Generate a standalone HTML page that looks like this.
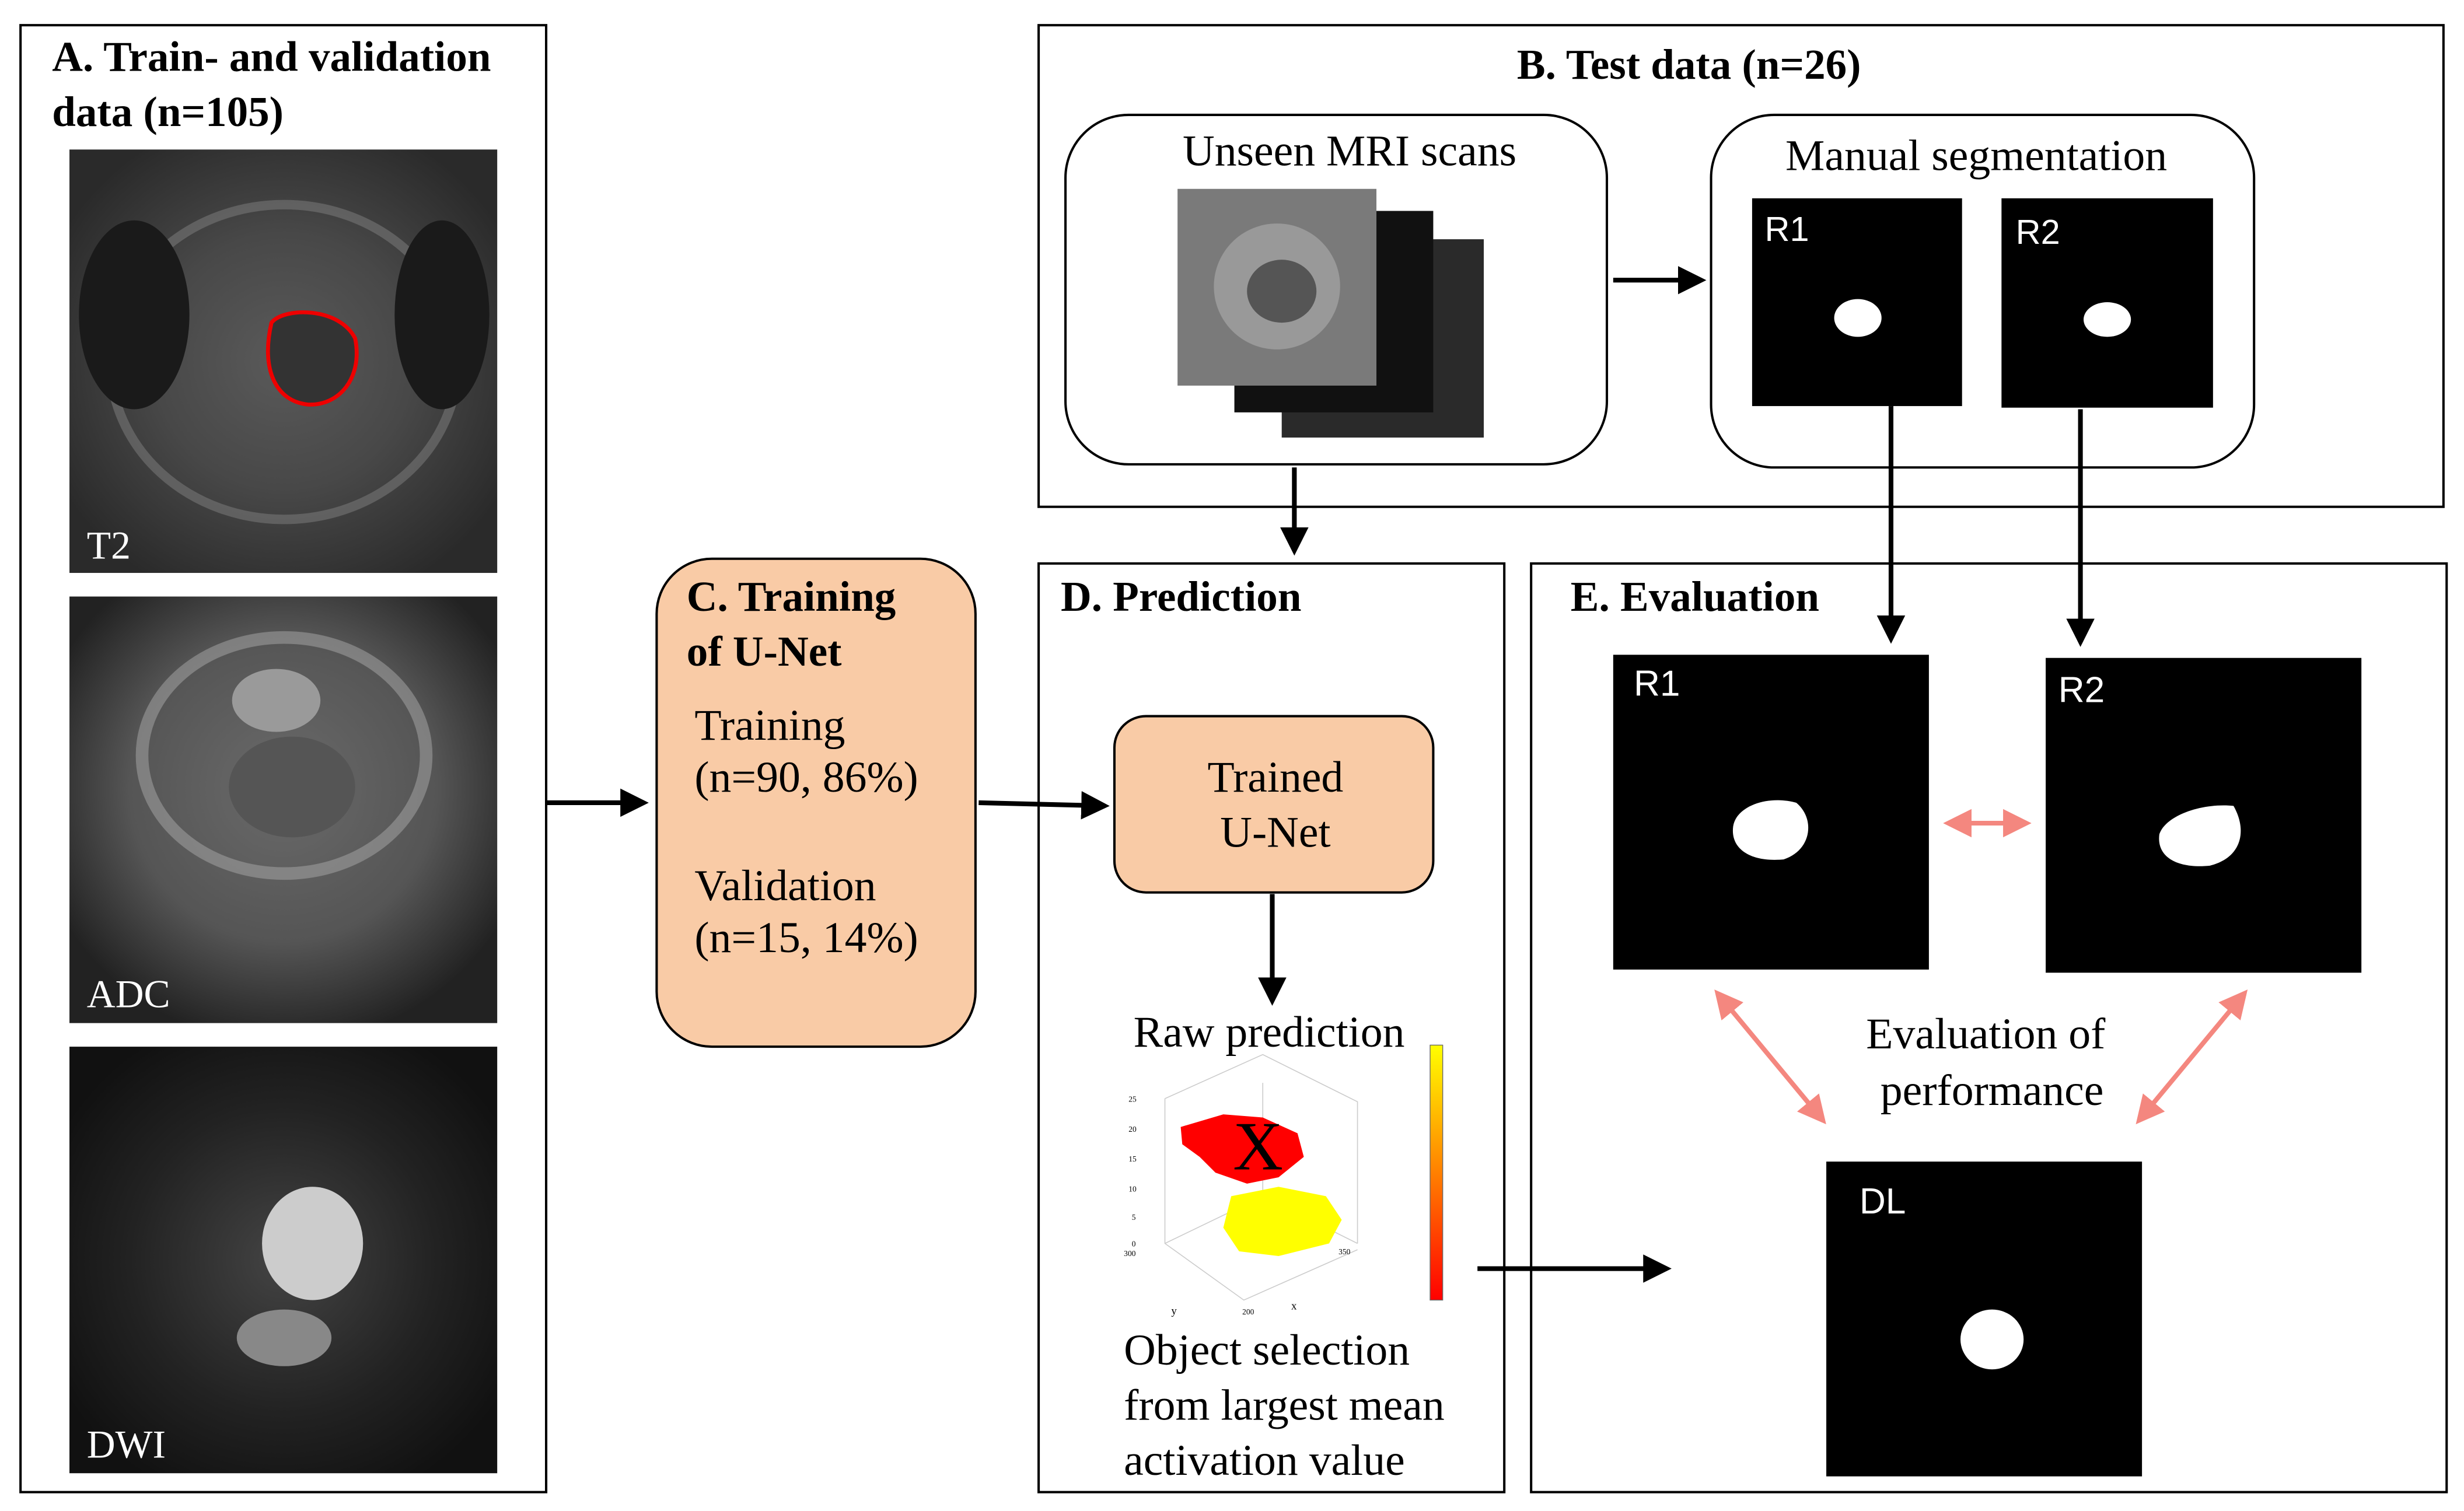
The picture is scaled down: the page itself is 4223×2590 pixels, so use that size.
<!DOCTYPE html>
<html><head><meta charset="utf-8"><style>
html,body{margin:0;padding:0;background:#fff}
svg{display:block}
text{font-family:"Liberation Serif",serif;fill:#000}
.s{font-family:"Liberation Sans",sans-serif}
</style></head><body>
<svg width="4223" height="2590" viewBox="0 0 1561 960" preserveAspectRatio="none" xmlns="http://www.w3.org/2000/svg">
<defs>
<marker id="ah" markerWidth="6" markerHeight="6" refX="5" refY="3" orient="auto" markerUnits="strokeWidth"><path d="M0,0 L6,3 L0,6 z" fill="#000"/></marker>
<marker id="ph" markerWidth="6" markerHeight="6" refX="5" refY="3" orient="auto-start-reverse" markerUnits="strokeWidth"><path d="M0,0 L6,3 L0,6 z" fill="#f4877f"/></marker>
<radialGradient id="t2" cx="50%" cy="50%" r="60%"><stop offset="0" stop-color="#5a5a5a"/><stop offset="0.5" stop-color="#484848"/><stop offset="1" stop-color="#2a2a2a"/></radialGradient>
<radialGradient id="adc" cx="50%" cy="45%" r="60%"><stop offset="0" stop-color="#6a6a6a"/><stop offset="0.6" stop-color="#555"/><stop offset="1" stop-color="#222"/></radialGradient>
<radialGradient id="dwi" cx="50%" cy="50%" r="60%"><stop offset="0" stop-color="#444"/><stop offset="0.6" stop-color="#222"/><stop offset="1" stop-color="#111"/></radialGradient>
<linearGradient id="cb" x1="0" y1="1" x2="0" y2="0"><stop offset="0" stop-color="#ff0000"/><stop offset="0.5" stop-color="#ff8000"/><stop offset="1" stop-color="#ffff00"/></linearGradient>
</defs>

<!-- A -->
<rect x="13" y="16" width="333" height="932" fill="none" stroke="#000" stroke-width="1.5"/>
<text x="33" y="45" font-size="27" font-weight="bold">A.   Train- and validation</text>
<text x="33" y="80" font-size="27" font-weight="bold">data (n=105)</text>
<rect x="44" y="95" width="271" height="269" fill="url(#t2)"/>
<ellipse cx="180" cy="230" rx="110" ry="100" fill="none" stroke="#777" stroke-width="6" opacity="0.6"/>
<ellipse cx="85" cy="200" rx="35" ry="60" fill="#1a1a1a"/><ellipse cx="280" cy="200" rx="30" ry="60" fill="#1a1a1a"/>
<path d="M172,205 C180,195 215,195 225,215 C230,240 215,258 195,257 C175,255 165,235 172,205 z" fill="#333" stroke="#e00" stroke-width="2.5"/>
<text x="55" y="355" font-size="25" style="fill:#fff">T2</text>
<rect x="44" y="379" width="271" height="271" fill="url(#adc)"/>
<ellipse cx="180" cy="480" rx="90" ry="75" fill="none" stroke="#aaa" stroke-width="8" opacity="0.5"/>
<ellipse cx="185" cy="500" rx="40" ry="32" fill="#555"/>
<ellipse cx="175" cy="445" rx="28" ry="20" fill="#9a9a9a"/>
<text x="55" y="640" font-size="25" style="fill:#fff">ADC</text>
<rect x="44" y="665" width="271" height="271" fill="url(#dwi)"/>
<ellipse cx="198" cy="790" rx="32" ry="36" fill="#ccc"/>
<ellipse cx="180" cy="850" rx="30" ry="18" fill="#888"/>
<text x="55" y="926" font-size="25" style="fill:#fff">DWI</text>

<line x1="346" y1="510" x2="408" y2="510" stroke="#000" stroke-width="3" marker-end="url(#ah)"/>

<!-- C -->
<rect x="416" y="355" width="202" height="310" rx="35" fill="#f9cba6" stroke="#000" stroke-width="1.5"/>
<text x="435" y="388" font-size="27" font-weight="bold">C. Training</text>
<text x="435" y="423" font-size="27" font-weight="bold">of U-Net</text>
<text x="440" y="470" font-size="28">Training</text>
<text x="440" y="503" font-size="28">(n=90, 86%)</text>
<text x="440" y="572" font-size="28">Validation</text>
<text x="440" y="605" font-size="28">(n=15, 14%)</text>
<line x1="620" y1="510" x2="700" y2="512" stroke="#000" stroke-width="3" marker-end="url(#ah)"/>

<!-- B -->
<rect x="658" y="16" width="890" height="306" fill="none" stroke="#000" stroke-width="1.5"/>
<text x="1070" y="50" font-size="27" font-weight="bold" text-anchor="middle">B. Test data (n=26)</text>
<rect x="675" y="73" width="343" height="222" rx="40" fill="none" stroke="#000" stroke-width="1.5"/>
<text x="855" y="105" font-size="28" text-anchor="middle">Unseen MRI scans</text>
<rect x="812" y="152" width="128" height="126" fill="#2a2a2a"/>
<rect x="782" y="134" width="126" height="128" fill="#111"/>
<rect x="746" y="120" width="126" height="125" fill="#7a7a7a"/>
<ellipse cx="809" cy="182" rx="40" ry="40" fill="#999"/>
<ellipse cx="812" cy="185" rx="22" ry="20" fill="#555"/>
<text x="1252" y="108" font-size="28" text-anchor="middle">Manual segmentation</text>
<rect x="1084" y="73" width="344" height="224" rx="40" fill="none" stroke="#000" stroke-width="1.5"/>
<line x1="1022" y1="178" x2="1078" y2="178" stroke="#000" stroke-width="3" marker-end="url(#ah)"/>
<rect x="1110" y="126" width="133" height="132" fill="#000"/>
<rect x="1268" y="126" width="134" height="133" fill="#000"/>
<text class="s" x="1118" y="153" font-size="22" style="fill:#fff">R1</text>
<text class="s" x="1277" y="155" font-size="22" style="fill:#fff">R2</text>
<ellipse cx="1177" cy="202" rx="15" ry="12" fill="#fff"/>
<ellipse cx="1335" cy="203" rx="15" ry="11" fill="#fff"/>

<!-- D -->
<rect x="658" y="358" width="295" height="590" fill="none" stroke="#000" stroke-width="1.5"/>
<text x="672" y="388" font-size="27" font-weight="bold">D. Prediction</text>
<line x1="820" y1="297" x2="820" y2="350" stroke="#000" stroke-width="3" marker-end="url(#ah)"/>
<rect x="706" y="455" width="202" height="112" rx="20" fill="#f9cba6" stroke="#000" stroke-width="1.5"/>
<text x="808" y="503" font-size="28" text-anchor="middle">Trained</text>
<text x="808" y="538" font-size="28" text-anchor="middle">U-Net</text>
<line x1="806" y1="568" x2="806" y2="636" stroke="#000" stroke-width="3" marker-end="url(#ah)"/>
<text x="804" y="665" font-size="28" text-anchor="middle">Raw prediction</text>
<g stroke="#ccc" stroke-width="0.6" fill="none">
<path d="M738,698 L738,790 L788,826 L860,794 M738,790 L800,760 L860,790 M800,760 L800,688 M738,698 L800,670 L860,700 L860,790"/>
</g>
<g font-family="Liberation Sans" font-size="5" fill="#333"><text x="715" y="700">25</text><text x="715" y="719">20</text><text x="715" y="738">15</text><text x="715" y="757">10</text><text x="717" y="775">5</text><text x="717" y="792">0</text><text x="712" y="798">300</text><text x="787" y="835">200</text><text x="848" y="797">350</text><text x="818" y="832" font-size="7">x</text><text x="742" y="835" font-size="7">y</text></g>
<path d="M748,716 L775,708 L800,710 L822,720 L826,735 L810,748 L790,752 L770,745 L760,735 L749,727 z" fill="#f00"/>
<path d="M780,760 L810,754 L840,760 L850,775 L842,790 L810,798 L785,795 L775,780 z" fill="#ff0"/>
<text x="797" y="743" font-family="Liberation Sans" font-size="44" text-anchor="middle">X</text>
<rect x="906" y="664" width="8" height="162" fill="url(#cb)" stroke="#666" stroke-width="0.5"/>
<text x="712" y="867" font-size="28">Object selection</text>
<text x="712" y="902" font-size="28">from largest mean</text>
<text x="712" y="937" font-size="28">activation value</text>
<line x1="936" y1="806" x2="1056" y2="806" stroke="#000" stroke-width="3" marker-end="url(#ah)"/>

<!-- E -->
<rect x="970" y="358" width="580" height="590" fill="none" stroke="#000" stroke-width="1.5"/>
<text x="995" y="388" font-size="27" font-weight="bold">E. Evaluation</text>
<line x1="1198" y1="258" x2="1198" y2="406" stroke="#000" stroke-width="3" marker-end="url(#ah)"/>
<line x1="1318" y1="260" x2="1318" y2="408" stroke="#000" stroke-width="3" marker-end="url(#ah)"/>
<rect x="1022" y="416" width="200" height="200" fill="#000"/>
<rect x="1296" y="418" width="200" height="200" fill="#000"/>
<rect x="1157" y="738" width="200" height="200" fill="#000"/>
<text class="s" x="1035" y="442" font-size="23" style="fill:#fff">R1</text>
<text class="s" x="1304" y="446" font-size="23" style="fill:#fff">R2</text>
<text class="s" x="1178" y="771" font-size="23" style="fill:#fff">DL</text>
<path d="M1098,525 C1100,512 1120,505 1138,510 C1150,520 1148,540 1130,546 C1110,548 1096,540 1098,525 z" fill="#fff"/>
<path d="M1368,530 C1372,518 1395,510 1415,512 C1424,528 1420,545 1400,550 C1380,552 1366,545 1368,530 z" fill="#fff"/>
<ellipse cx="1262" cy="851" rx="20" ry="19" fill="#fff"/>
<g stroke="#f4877f" stroke-width="3" fill="none">
<line x1="1234" y1="523" x2="1284" y2="523" marker-start="url(#ph)" marker-end="url(#ph)"/>
<line x1="1088" y1="631" x2="1155" y2="712" marker-start="url(#ph)" marker-end="url(#ph)"/>
<line x1="1422" y1="631" x2="1355" y2="712" marker-start="url(#ph)" marker-end="url(#ph)"/>
</g>
<text x="1258" y="666" font-size="28" text-anchor="middle">Evaluation of</text>
<text x="1262" y="702" font-size="28" text-anchor="middle">performance</text>
</svg>
</body></html>
